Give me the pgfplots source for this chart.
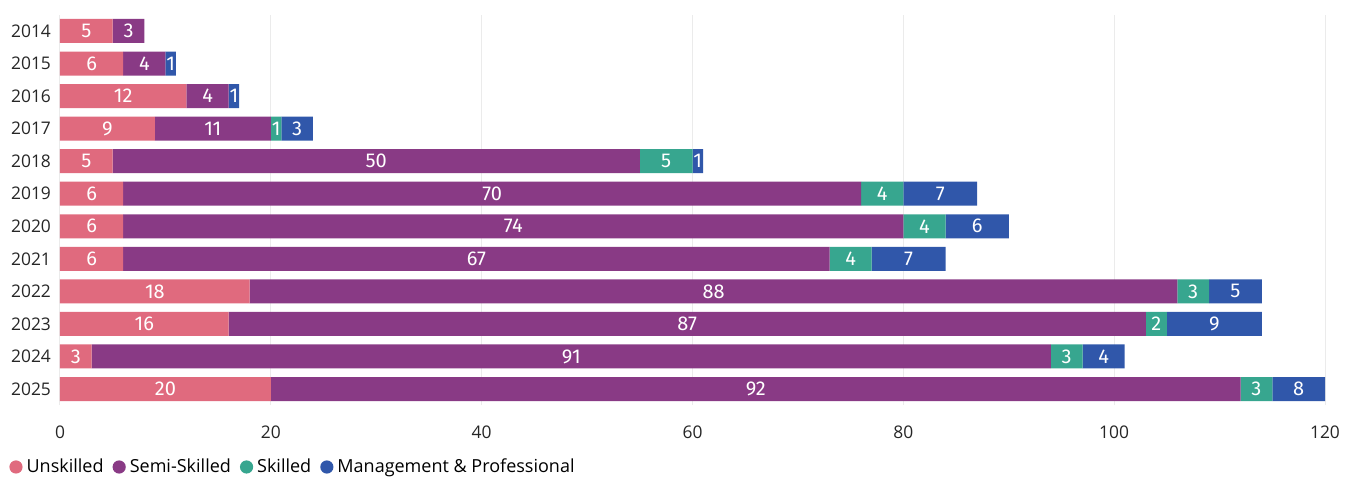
\documentclass[border=0pt]{standalone}
\usepackage{pgfplots}
\usepackage{pgfplotstable}
\pgfplotsset{compat=1.18}
\usepackage{fontspec}
\setmainfont{Open Sans}
\newfontfamily\barfont{Fira Sans}
\definecolor{cunsk}{RGB}{224,106,126}
\definecolor{csemi}{RGB}{137,58,133}
\definecolor{cskil}{RGB}{55,166,143}
\definecolor{cmgmt}{RGB}{48,87,170}

% y: 11 = 2014 ... 0 = 2025
% mv = visible width of the management bar (the 2025 bar is cut at the axis end)
\pgfplotstableread{
y u s k m mv
11 5 3 0 0 0
10 6 4 0 1 1
9 12 4 0 1 1
8 9 11 1 3 3
7 5 50 5 1 1
6 6 70 4 7 7
5 6 74 4 6 6
4 6 67 4 7 7
3 18 88 3 5 5
2 16 87 2 9 9
1 3 91 3 4 4
0 20 92 3 8 5
}\jobs

\pgfplotsset{
  seglabels/.style={
    visualization depends on={\thisrow{#1} \as \val},
    nodes near coords={\ifdim\val pt>0.5pt \pgfmathprintnumber{\val}\fi},
    every node near coord/.append style={anchor=center,
      text=white, font=\barfont\fontsize{10}{10}\selectfont},
  },
  dot/.style={legend image code/.code={\fill[#1] (0.3em,0) circle (0.33em);}},
}

\begin{document}
\begin{tikzpicture}
\begin{axis}[
    name=ax,
    xbar stacked,
    scale only axis,
    width=632.5pt, height=195.3pt,
    xmin=0, xmax=120,
    ymin=-0.5, ymax=11.5,
    bar width=12pt,
    ytick={0,...,11},
    yticklabels={2025,2024,2023,2022,2021,2020,2019,2018,2017,2016,2015,2014},
    xtick={0,20,...,120},
    axis line style={draw=none},
    major tick length=0pt,
    xmajorgrids,
    grid style={black!8, line width=0.5pt},
    /pgf/number format/assume math mode=true,
    tick label style={font=\fontsize{8.7}{10}\selectfont, text=black!85},
    xticklabel style={yshift=-7pt},
    yticklabel style={xshift=-1pt},
    legend columns=-1,
    legend style={draw=none, fill=none, at={(0,0)}, anchor=west,
      xshift=-28.5pt, yshift=-30.85pt,
      font=\fontsize{9}{10}\selectfont,
      /tikz/every even column/.append style={column sep=2.5pt}},
    legend cell align=left,
]
\addplot[fill=cunsk, draw=none, seglabels=u, dot=cunsk] table[x=u, y=y] {\jobs};
\addplot[fill=csemi, draw=none, seglabels=s, dot=csemi] table[x=s, y=y] {\jobs};
\addplot[fill=cskil, draw=none, seglabels=k, dot=cskil] table[x=k, y=y] {\jobs};
\addplot[fill=cmgmt, draw=none, seglabels=m, dot=cmgmt] table[x=mv, y=y] {\jobs};
\legend{Unskilled, Semi-Skilled, Skilled, Management \& Professional}
\end{axis}
\pgfresetboundingbox
\path[use as bounding box] (ax.south west) ++(-30pt,-36.85pt) rectangle ([shift={(15.5pt,7.35pt)}]ax.north east);
\end{tikzpicture}
\end{document}
